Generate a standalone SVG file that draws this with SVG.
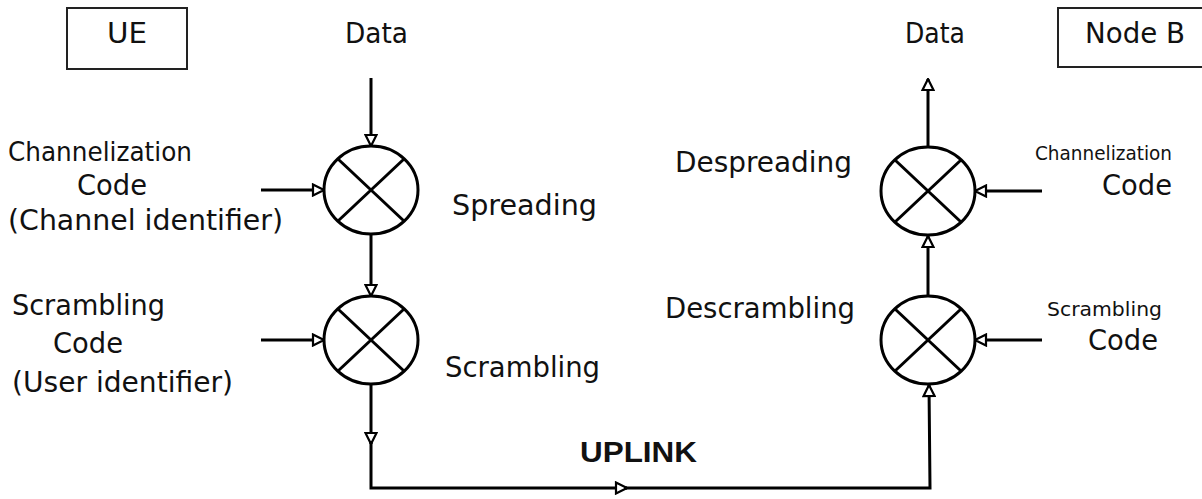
<svg xmlns="http://www.w3.org/2000/svg" width="1202" height="499" viewBox="0 0 1202 499">
  <style>
    .lbl { font-family: "DejaVu Sans", Verdana, sans-serif; font-size: 28px; fill: #111; }
    .mid { font-size: 27px; }
    .sm { font-size: 19px; }
    .bold { font-family: "Liberation Sans", Arial, sans-serif; font-weight: bold; font-size: 30px; fill: #111; }
    .box { fill: none; stroke: #222; stroke-width: 2; }
    .mix { fill: none; stroke: #000; stroke-width: 3; }
    .wire { fill: none; stroke: #000; stroke-width: 3; marker-end: url(#head); }
  </style>
  <defs>
    <marker id="head" viewBox="0 0 14 14" refX="13" refY="7" markerWidth="14" markerHeight="14" markerUnits="userSpaceOnUse" orient="auto">
      <path d="M2,1.5 L13,7 L2,12.5 Z" fill="#fff" stroke="#000" stroke-width="2.2" stroke-linejoin="miter"/>
    </marker>
    <g id="mixer">
      <ellipse cx="0" cy="0" rx="47" ry="44" class="mix"/>
      <line x1="-33" y1="-31" x2="33" y2="31" class="mix"/>
      <line x1="-33" y1="31" x2="33" y2="-31" class="mix"/>
    </g>
  </defs>

  <!-- transmitter side -->
  <g id="ue">
    <rect x="67" y="8" width="120" height="61" class="box"/>
    <text x="107" y="43" textLength="40" lengthAdjust="spacingAndGlyphs" class="lbl">UE</text>
  </g>
  <g id="data-in">
    <text x="345" y="43" textLength="63" lengthAdjust="spacingAndGlyphs" class="lbl">Data</text>
  </g>
  <g id="chan-code-tx">
    <text x="8" y="161" textLength="184" lengthAdjust="spacingAndGlyphs" class="lbl mid">Channelization</text>
    <text x="77" y="195" textLength="70" lengthAdjust="spacingAndGlyphs" class="lbl">Code</text>
    <text x="8" y="230" textLength="275" lengthAdjust="spacingAndGlyphs" class="lbl">(Channel identifier)</text>
  </g>
  <g id="scr-code-tx">
    <text x="12" y="315" textLength="153" lengthAdjust="spacingAndGlyphs" class="lbl">Scrambling</text>
    <text x="53" y="353" textLength="70" lengthAdjust="spacingAndGlyphs" class="lbl">Code</text>
    <text x="12" y="392" textLength="221" lengthAdjust="spacingAndGlyphs" class="lbl">(User identifier)</text>
  </g>
  <g id="spreading">
    <use href="#mixer" x="371" y="190"/>
    <text x="452" y="215" textLength="145" lengthAdjust="spacingAndGlyphs" class="lbl">Spreading</text>
  </g>
  <g id="scrambling">
    <use href="#mixer" x="371" y="340"/>
    <text x="445" y="377" textLength="155" lengthAdjust="spacingAndGlyphs" class="lbl">Scrambling</text>
  </g>

  <!-- receiver side -->
  <g id="node-b">
    <rect x="1058" y="8" width="160" height="59" class="box"/>
    <text x="1085" y="43" textLength="100" lengthAdjust="spacingAndGlyphs" class="lbl">Node B</text>
  </g>
  <g id="data-out">
    <text x="905" y="43" textLength="60" lengthAdjust="spacingAndGlyphs" class="lbl">Data</text>
  </g>
  <g id="chan-code-rx">
    <text x="1035" y="160" textLength="137" lengthAdjust="spacingAndGlyphs" class="lbl sm">Channelization</text>
    <text x="1102" y="195" textLength="70" lengthAdjust="spacingAndGlyphs" class="lbl">Code</text>
  </g>
  <g id="scr-code-rx">
    <text x="1047" y="316" textLength="115" lengthAdjust="spacingAndGlyphs" class="lbl sm">Scrambling</text>
    <text x="1088" y="350" textLength="70" lengthAdjust="spacingAndGlyphs" class="lbl">Code</text>
  </g>
  <g id="despreading">
    <use href="#mixer" x="928" y="191"/>
    <text x="675" y="172" textLength="177" lengthAdjust="spacingAndGlyphs" class="lbl">Despreading</text>
  </g>
  <g id="descrambling">
    <use href="#mixer" x="928" y="340"/>
    <text x="665" y="318" textLength="190" lengthAdjust="spacingAndGlyphs" class="lbl">Descrambling</text>
  </g>

  <g id="uplink-label">
    <text x="580" y="462" textLength="117" lengthAdjust="spacingAndGlyphs" class="bold">UPLINK</text>
  </g>

  <!-- signal paths -->
  <g id="connectors">
    <path d="M371,78 L371,146" class="wire"/>
    <path d="M261,190 L324,190" class="wire"/>
    <path d="M371,234 L371,296" class="wire"/>
    <path d="M261,340 L324,340" class="wire"/>
    <path d="M371,384 L371,444" class="wire"/>
    <path d="M371,441 L371,488 L627,488" class="wire"/>
    <path d="M624,488 L930,488 L929,385" class="wire"/>
    <path d="M928,296 L928,236" class="wire"/>
    <path d="M928,147 L928,79" class="wire"/>
    <path d="M1042,191 L975,191" class="wire"/>
    <path d="M1042,340 L975,340" class="wire"/>
  </g>
</svg>
